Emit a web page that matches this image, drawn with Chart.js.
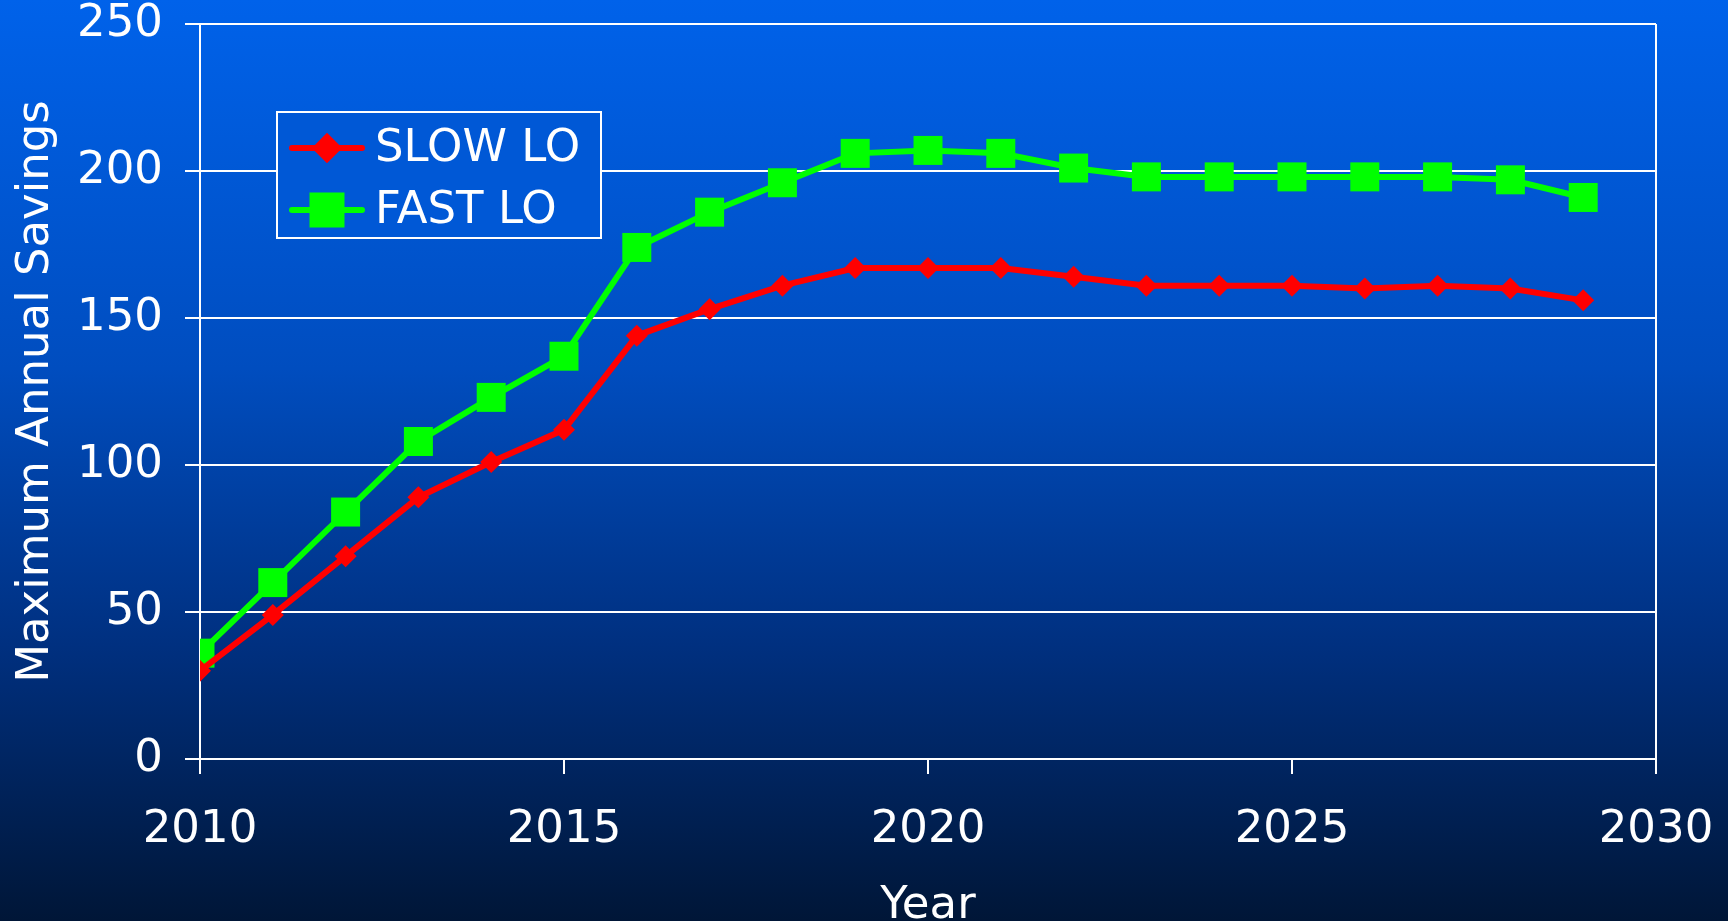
<!DOCTYPE html>
<html>
<head>
<meta charset="utf-8">
<script src="https://cdn.jsdelivr.net/npm/chart.js@4/dist/chart.umd.min.js"></script>
<style>
  html, body { margin: 0; padding: 0; }
  body {
    width: 1728px; height: 921px; overflow: hidden;
    background: linear-gradient(to bottom, #0062ea 0%, #004dbf 40%, #003080 70%, #001637 100%);
  }
  #wrap { position: relative; width: 1728px; height: 921px; }
</style>
</head>
<body>
<div id="wrap"><canvas id="myChart"></canvas></div>
<script>
var years = [2010, 2011, 2012, 2013, 2014, 2015, 2016, 2017, 2018, 2019,
             2020, 2021, 2022, 2023, 2024, 2025, 2026, 2027, 2028, 2029];
var slowLO = [30, 49, 69, 89, 101, 112, 144, 153, 161, 167,
              167, 167, 164, 161, 161, 161, 160, 161, 160, 156];
var fastLO = [36, 60, 84, 108, 123, 137, 174, 186, 196, 206,
              207, 206, 201, 198, 198, 198, 198, 198, 197, 191];
var seriesNames = ['SLOW LO', 'FAST LO'];

var fontFam = '"DejaVu Sans", Verdana, sans-serif';
var white = '#ffffff';

function toPoints(vals) {
  return years.map(function (y, i) { return { x: y, y: vals[i] }; });
}

// legend box drawn inside the plot, like the original
var boxLegend = {
  id: 'boxLegend',
  afterDatasetsDraw: function (chart) {
    var ctx = chart.ctx;
    var bx = 277, by = 112, bw = 324, bh = 126;
    ctx.save();
    ctx.fillStyle = '#0058d6';
    ctx.fillRect(bx, by, bw, bh);
    ctx.strokeStyle = white;
    ctx.lineWidth = 2;
    ctx.strokeRect(bx, by, bw, bh);
    var rows = [148, 210];
    chart.data.datasets.forEach(function (ds, i) {
      var cy = rows[i];
      ctx.strokeStyle = ds.borderColor;
      ctx.lineWidth = ds.borderWidth;
      ctx.lineCap = 'round';
      ctx.beginPath();
      ctx.moveTo(292, cy);
      ctx.lineTo(362, cy);
      ctx.stroke();
      Chart.helpers.drawPoint(ctx, {
        pointStyle: ds.pointStyle, radius: ds.pointRadius, borderWidth: 1
      }, 327, cy);
      ctx.fillStyle = ds.pointBackgroundColor;
      ctx.fill();
      ctx.fillStyle = white;
      ctx.font = '45px ' + fontFam;
      ctx.textBaseline = 'middle';
      ctx.fillText(ds.label, 375, cy + 1);
    });
    ctx.restore();
  }
};

var ctx = document.getElementById('myChart');

var savingsChart = new Chart(ctx, {
  type: 'line',
  data: {
    datasets: [{
      label: seriesNames[0],
      data: toPoints(slowLO),
      borderColor: '#ff0000',
      backgroundColor: '#ff0000',
      pointBackgroundColor: '#ff0000',
      pointBorderColor: '#ff0000',
      borderWidth: 6,
      pointStyle: 'rectRot',
      pointRadius: 11,
      pointBorderWidth: 0,
      tension: 0
    }, {
      label: seriesNames[1],
      data: toPoints(fastLO),
      borderColor: '#00ff00',
      backgroundColor: '#00ff00',
      pointBackgroundColor: '#00ff00',
      pointBorderColor: '#00ff00',
      borderWidth: 6,
      pointStyle: 'rect',
      pointRadius: 20.5,
      pointBorderWidth: 0,
      tension: 0
    }]
  },
  options: {
    animation: false,
    responsive: true,
    maintainAspectRatio: false,
    layout: { padding: { left: 8, right: 72, top: 24, bottom: 0 } },
    plugins: {
      legend: { display: false },
      tooltip: { enabled: false }
    },
    scales: {
      x: {
        type: 'linear',
        min: 2010,
        max: 2030,
        afterFit: function (scale) {
          scale.height = 162;
          scale.paddingLeft = 0;
          scale.paddingRight = 0;
        },
        ticks: {
          stepSize: 5,
          color: white,
          font: { family: fontFam, size: 45 },
          padding: 29,
          callback: function (v) { return String(v); }
        },
        grid: {
          color: function (c) { return c.tick && c.tick.value === 2030 ? white : 'rgba(0,0,0,0)'; },
          tickColor: white,
          lineWidth: 2,
          tickLength: 15
        },
        border: { color: white, width: 2 },
        title: {
          display: true,
          text: 'Year',
          color: white,
          font: { family: fontFam, size: 45 },
          padding: { top: 0, bottom: -12 }
        }
      },
      y: {
        min: 0,
        max: 250,
        afterFit: function (scale) {
          scale.width = 192;
          scale.paddingTop = 0;
          scale.paddingBottom = 0;
        },
        ticks: {
          stepSize: 50,
          color: white,
          font: { family: fontFam, size: 45 },
          padding: 22
        },
        grid: {
          color: white,
          lineWidth: 2,
          tickLength: 15
        },
        border: { color: white, width: 2 },
        title: {
          display: true,
          text: 'Maximum Annual Savings',
          color: white,
          font: { family: fontFam, size: 45 },
          padding: { top: 1, bottom: 0 }
        }
      }
    }
  },
  plugins: [boxLegend]
});
</script>
</body>
</html>
